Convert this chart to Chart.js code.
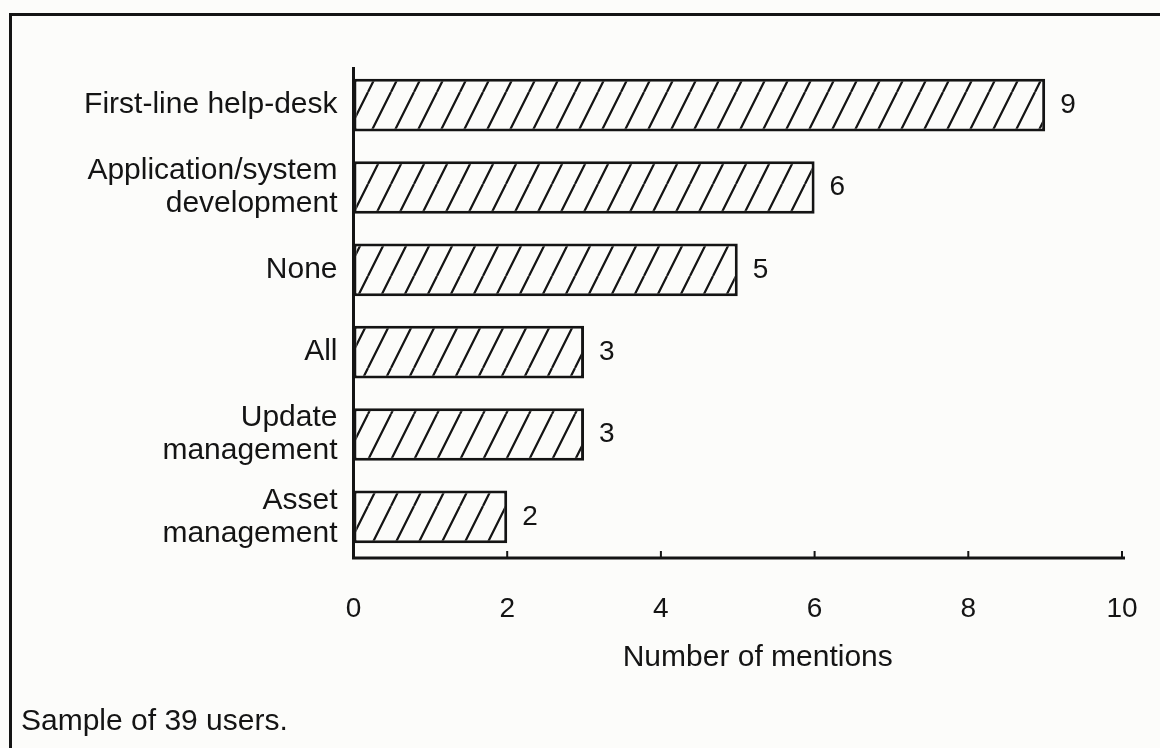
<!DOCTYPE html>
<html><head><meta charset="utf-8">
<script src="https://cdn.jsdelivr.net/npm/chart.js@4.4.0/dist/chart.umd.min.js"></script>
<style>html,body{margin:0;padding:0;background:#fcfcfa;}#wrap{width:1160px;height:748px;position:relative}canvas{display:block}</style>
</head><body><div id="wrap"><canvas id="c" width="1160" height="748"></canvas></div>
<script>
const categories = ['First-line help-desk', ['Application/system', 'development'], 'None', 'All', ['Update', 'management'], ['Asset', 'management']];
const mentions = [9, 6, 5, 3, 3, 2];
const xTicks = [0, 2, 4, 6, 8, 10];
const axisTitle = 'Number of mentions';
const footnote = 'Sample of 39 users.';

const INK = '#141414';
const BG = '#fcfcfa';
const FAMILY = '"Liberation Sans", Arial, Helvetica, sans-serif';

const canvas = document.getElementById('c');
const ctx = canvas.getContext('2d');

function hatchPattern() {
  const w = 23, h = 46;
  const t = document.createElement('canvas');
  t.width = w; t.height = h;
  const g = t.getContext('2d');
  g.fillStyle = BG; g.fillRect(0, 0, w, h);
  g.strokeStyle = INK; g.lineWidth = 2.2;
  g.beginPath();
  for (const o of [-w, 0, w]) { g.moveTo(o, h); g.lineTo(o + w, 0); }
  g.stroke();
  return ctx.createPattern(t, 'repeat');
}

const decor = {
  id: 'decor',
  afterDraw(chart) {
    const c = chart.ctx, a = chart.chartArea, xs = chart.scales.x;
    c.save();
    c.strokeStyle = INK; c.fillStyle = INK; c.lineCap = 'butt';
    // axes
    c.lineWidth = 3;
    c.beginPath();
    c.moveTo(a.left, a.top + 3); c.lineTo(a.left, a.bottom + 1.5);
    c.moveTo(a.left - 1.5, a.bottom); c.lineTo(a.right + 3, a.bottom);
    c.stroke();
    // inward ticks
    c.lineWidth = 2;
    c.beginPath();
    xs.ticks.forEach(t => {
      if (t.value === 0) return;
      const px = xs.getPixelForValue(t.value);
      c.moveTo(px, a.bottom); c.lineTo(px, a.bottom - 7);
    });
    c.stroke();
    // value labels
    c.font = '28px ' + FAMILY;
    c.textAlign = 'left'; c.textBaseline = 'middle';
    const meta = chart.getDatasetMeta(0);
    meta.data.forEach((bar, i) => {
      c.fillText(String(mentions[i]), bar.x + 15, bar.y);
    });
    // axis title
    c.font = '30px ' + FAMILY;
    c.textAlign = 'center';
    c.fillText(axisTitle, (a.left + a.right) / 2 + 20, 658);
    // footnote
    c.textAlign = 'left';
    c.fillText(footnote, 21, 722);
    // frame
    c.lineWidth = 3;
    c.beginPath();
    c.moveTo(10.5, 760); c.lineTo(10.5, 14.5); c.lineTo(1170, 14.5);
    c.stroke();
    c.restore();
  }
};

new Chart(canvas, {
  type: 'bar',
  data: {
    labels: categories,
    datasets: [{
      data: mentions,
      backgroundColor: hatchPattern(),
      borderColor: INK,
      borderWidth: 3,
      borderSkipped: false,
      barPercentage: 0.64,
      categoryPercentage: 1
    }]
  },
  options: {
    indexAxis: 'y',
    responsive: false,
    animation: false,
    events: [],
    layout: { padding: { left: 0, right: 38, top: 64, bottom: 0 } },
    plugins: { legend: { display: false }, tooltip: { enabled: false } },
    scales: {
      x: {
        type: 'linear', min: 0, max: 10,
        afterBuildTicks: s => { s.ticks = xTicks.map(v => ({ value: v })); },
        ticks: { color: INK, font: { family: FAMILY, size: 28 }, padding: 26, maxRotation: 0, autoSkip: false },
        grid: { display: false },
        border: { display: false },
        afterFit: s => { s.height = 190; s.paddingLeft = 0; s.paddingRight = 0; }
      },
      y: {
        type: 'category',
        ticks: { color: INK, font: { family: FAMILY, size: 30, lineHeight: 1.1 }, padding: 8, autoSkip: false },
        grid: { display: false },
        border: { display: false },
        afterFit: s => { s.width = 353.5; s.paddingTop = 0; s.paddingBottom = 0; }
      }
    }
  },
  plugins: [decor]
});
</script>
</body></html>
